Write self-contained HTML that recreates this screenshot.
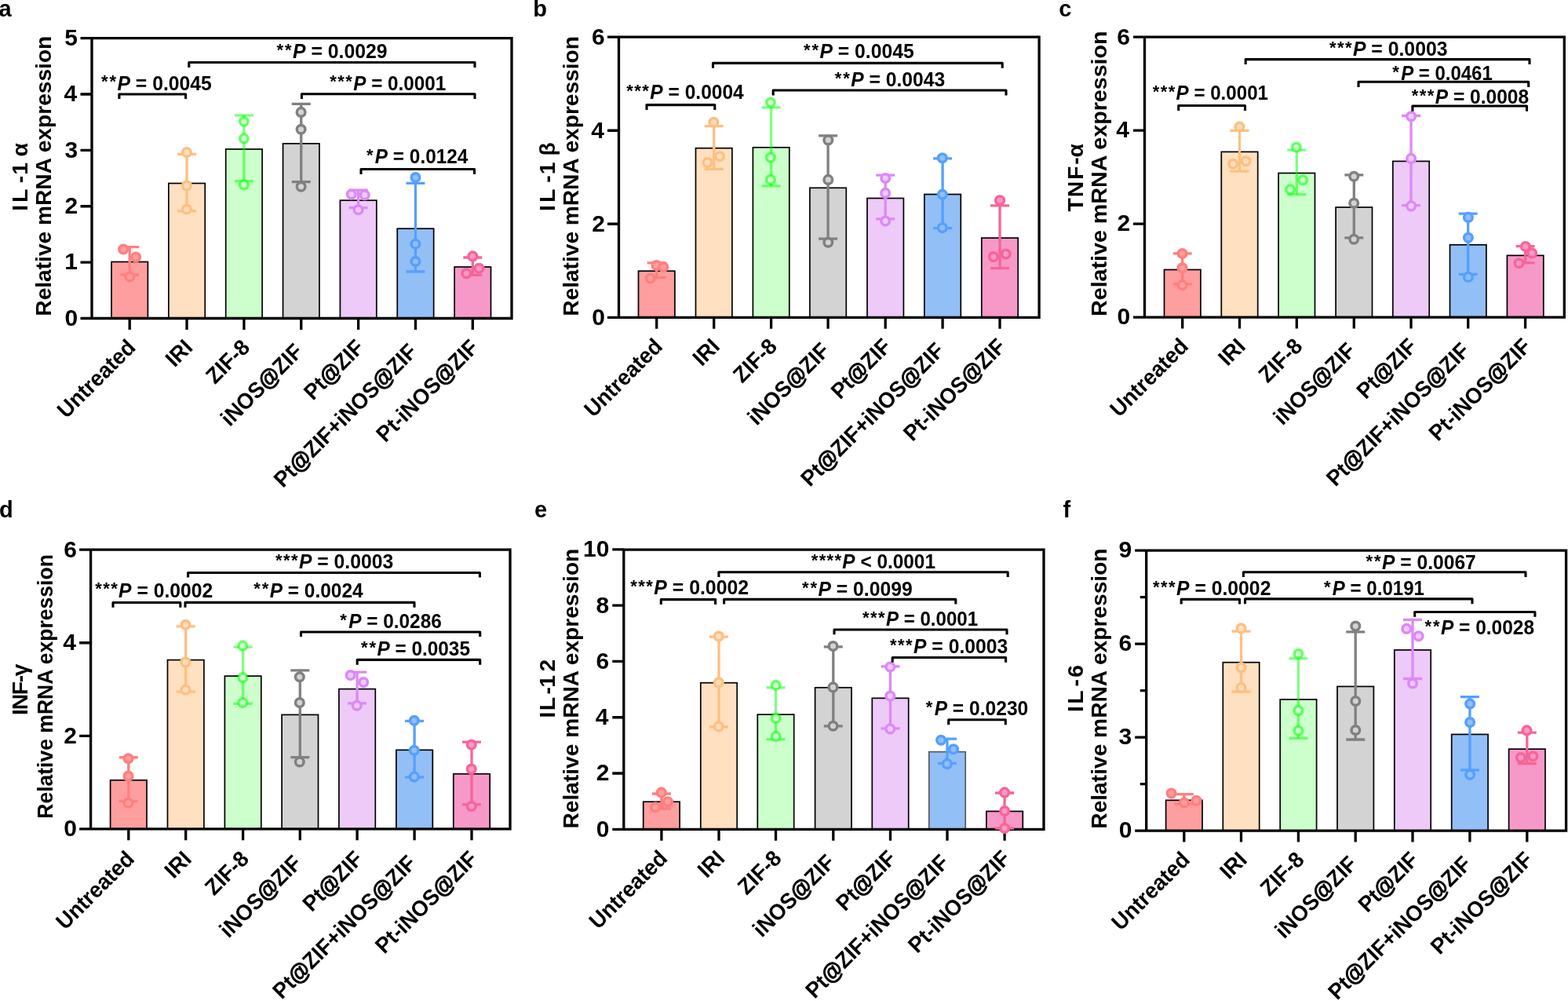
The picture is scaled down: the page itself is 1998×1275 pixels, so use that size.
<!DOCTYPE html>
<html><head><meta charset="utf-8"><title>mRNA expression bar charts</title><style>
html,body{margin:0;padding:0;background:#fff;}
svg{display:block;}
text{font-family:"Liberation Sans", Arial, Helvetica, sans-serif;font-weight:bold;fill:#000;}
</style></head><body>
<svg width="1998" height="1275" viewBox="0 0 1998 1275">
<rect width="1998" height="1275" fill="#fff"/>
<g id="p0"><rect x="142" y="333.5" width="46.4" height="72" fill="#FF9E9E" stroke="#000" stroke-width="1.7"/>
<rect x="214.85" y="233.5" width="46.4" height="172" fill="#FFE0C0" stroke="#000" stroke-width="1.7"/>
<rect x="287.7" y="190" width="46.4" height="215.5" fill="#CCFFCC" stroke="#000" stroke-width="1.7"/>
<rect x="360.55" y="182.9" width="46.4" height="222.6" fill="#D3D3D3" stroke="#000" stroke-width="1.7"/>
<rect x="433.4" y="255.2" width="46.4" height="150.3" fill="#EDCAF8" stroke="#000" stroke-width="1.7"/>
<rect x="506.25" y="291.2" width="46.4" height="114.3" fill="#93BFF7" stroke="#000" stroke-width="1.7"/>
<rect x="579.1" y="340" width="46.4" height="65.5" fill="#F799C8" stroke="#000" stroke-width="1.7"/>
<path d="M117 48.6H652V405.5H117ZM102.5 405.5H117M102.5 334.12H117M102.5 262.74H117M102.5 191.36H117M102.5 119.98H117M102.5 48.6H117M165.2 405.5V419.9M238.05 405.5V419.9M310.9 405.5V419.9M383.75 405.5V419.9M456.6 405.5V419.9M529.45 405.5V419.9M602.3 405.5V419.9" stroke="#000" stroke-width="3.3" fill="none" stroke-linejoin="miter"/>
<path d="M165.2 314.7V350M153.2 314.7H177.2M153.2 350H177.2" stroke="#FF7F7F" stroke-width="3.3" fill="none"/>
<circle cx="157.1" cy="317.5" r="5.3" fill="#FF9E9E" stroke="#FF7F7F" stroke-width="3.5"/>
<circle cx="173.1" cy="327.6" r="5.3" fill="#FF9E9E" stroke="#FF7F7F" stroke-width="3.5"/>
<circle cx="165.3" cy="352.4" r="5.3" fill="#FF9E9E" stroke="#FF7F7F" stroke-width="3.5"/>
<path d="M238.05 196.4V268.8M226.05 196.4H250.05M226.05 268.8H250.05" stroke="#FFBF80" stroke-width="3.3" fill="none"/>
<circle cx="237.9" cy="194" r="5.3" fill="#FFE0C0" stroke="#FFBF80" stroke-width="3.5"/>
<circle cx="237.9" cy="236.6" r="5.3" fill="#FFE0C0" stroke="#FFBF80" stroke-width="3.5"/>
<circle cx="237.9" cy="266.5" r="5.3" fill="#FFE0C0" stroke="#FFBF80" stroke-width="3.5"/>
<path d="M310.9 146.9V230.7" stroke="#00FF00" stroke-width="3.3" fill="none" stroke-opacity="0.5"/>
<path d="M298.9 146.9H322.9" stroke="#00FF00" stroke-width="3.3" fill="none" stroke-opacity="0.5"/>
<path d="M298.9 230.7H322.9" stroke="#00FF00" stroke-width="3.3" fill="none" stroke-opacity="0.5"/>
<circle cx="310.8" cy="154.7" r="5.3" fill="#CCFFCC"/>
<circle cx="310.8" cy="154.7" r="5.3" fill="none" stroke="#00FF00" stroke-width="3.5" stroke-opacity="0.55"/>
<circle cx="310.8" cy="176.4" r="5.3" fill="#CCFFCC"/>
<circle cx="310.8" cy="176.4" r="5.3" fill="none" stroke="#00FF00" stroke-width="3.5" stroke-opacity="0.55"/>
<circle cx="310.8" cy="235.4" r="5.3" fill="#CCFFCC"/>
<circle cx="310.8" cy="235.4" r="5.3" fill="none" stroke="#00FF00" stroke-width="3.5" stroke-opacity="0.55"/>
<path d="M383.75 132.4V231.6M371.75 132.4H395.75M371.75 231.6H395.75" stroke="#808080" stroke-width="3.3" fill="none"/>
<circle cx="383.6" cy="142.9" r="5.3" fill="#D3D3D3" stroke="#808080" stroke-width="3.5"/>
<circle cx="383.6" cy="164.8" r="5.3" fill="#D3D3D3" stroke="#808080" stroke-width="3.5"/>
<circle cx="383.6" cy="237.8" r="5.3" fill="#D3D3D3" stroke="#808080" stroke-width="3.5"/>
<path d="M456.6 242.2V264.6M444.6 242.2H468.6M444.6 264.6H468.6" stroke="#DD88F8" stroke-width="3.3" fill="none"/>
<circle cx="447.8" cy="247.6" r="5.3" fill="#EDCAF8" stroke="#DD88F8" stroke-width="3.5"/>
<circle cx="464.7" cy="248.4" r="5.3" fill="#EDCAF8" stroke="#DD88F8" stroke-width="3.5"/>
<circle cx="456.5" cy="267.2" r="5.3" fill="#EDCAF8" stroke="#DD88F8" stroke-width="3.5"/>
<path d="M529.45 233.4V346M517.45 233.4H541.45M517.45 346H541.45" stroke="#55A0FF" stroke-width="3.3" fill="none"/>
<circle cx="529.4" cy="226.1" r="5.3" fill="#93BFF7" stroke="#55A0FF" stroke-width="3.5"/>
<circle cx="529.4" cy="310.7" r="5.3" fill="#93BFF7" stroke="#55A0FF" stroke-width="3.5"/>
<circle cx="529.4" cy="333" r="5.3" fill="#93BFF7" stroke="#55A0FF" stroke-width="3.5"/>
<path d="M602.3 328V350.3M590.3 328H614.3M590.3 350.3H614.3" stroke="#F66598" stroke-width="3.3" fill="none"/>
<circle cx="602.3" cy="326.4" r="5.3" fill="#F799C8" stroke="#F66598" stroke-width="3.5"/>
<circle cx="610.5" cy="341.7" r="5.3" fill="#F799C8" stroke="#F66598" stroke-width="3.5"/>
<circle cx="594.3" cy="348.3" r="5.3" fill="#F799C8" stroke="#F66598" stroke-width="3.5"/>
<text x="99.23" y="414.82" text-anchor="end" font-size="30.0">0</text>
<text x="98.83" y="343.44" text-anchor="end" font-size="30.0">1</text>
<text x="99.2" y="272.06" text-anchor="end" font-size="30.0">2</text>
<text x="99.08" y="200.68" text-anchor="end" font-size="30.0">3</text>
<text x="98.16" y="129.3" text-anchor="end" font-size="30.0">4</text>
<text x="98.83" y="57.92" text-anchor="end" font-size="30.0">5</text>
<text transform="translate(174.2,444.2) rotate(-45)" text-anchor="end" font-size="28.3" textLength="126.96" lengthAdjust="spacingAndGlyphs">Untreated</text>
<text transform="translate(247.05,444.2) rotate(-45)" text-anchor="end" font-size="28.3" textLength="34.76" lengthAdjust="spacingAndGlyphs">IRI</text>
<text transform="translate(319.9,444.2) rotate(-45)" text-anchor="end" font-size="28.3" textLength="64.97" lengthAdjust="spacingAndGlyphs">ZIF-8</text>
<text transform="translate(387.4,449.55) rotate(-45)" text-anchor="end" font-size="28.3" textLength="133.81" lengthAdjust="spacingAndGlyphs">iNOS<tspan stroke="#000" stroke-width="0.9">@</tspan>ZIF</text>
<text transform="translate(465.6,444.2) rotate(-45)" text-anchor="end" font-size="28.3" textLength="94.51" lengthAdjust="spacingAndGlyphs">Pt<tspan stroke="#000" stroke-width="0.9">@</tspan>ZIF</text>
<text transform="translate(533.1,449.55) rotate(-45)" text-anchor="end" font-size="28.3" textLength="244.2" lengthAdjust="spacingAndGlyphs">Pt<tspan stroke="#000" stroke-width="0.9">@</tspan>ZIF+iNOS<tspan stroke="#000" stroke-width="0.9">@</tspan>ZIF</text>
<text transform="translate(611.3,444.2) rotate(-45)" text-anchor="end" font-size="28.3" textLength="170.07" lengthAdjust="spacingAndGlyphs">Pt-iNOS<tspan stroke="#000" stroke-width="0.9">@</tspan>ZIF</text>
<path d="M151.9 125.9V120H236.6V125.9" stroke="#000" stroke-width="3.1" fill="none" stroke-linejoin="round"/>
<path d="M240.8 85.9V79.5H605V85.9" stroke="#000" stroke-width="3.1" fill="none" stroke-linejoin="round"/>
<path d="M384.4 125.9V119.7H605V125.9" stroke="#000" stroke-width="3.1" fill="none" stroke-linejoin="round"/>
<path d="M460 222V215.5H604.5V222" stroke="#000" stroke-width="3.1" fill="none" stroke-linejoin="round"/>
<text x="129.04" y="111.4" font-size="22.0" textLength="19.06" lengthAdjust="spacing">**</text>
<text x="149.49" y="114.6" font-size="25.4" textLength="120.42" lengthAdjust="spacingAndGlyphs"><tspan font-style="italic">P</tspan> = 0.0045</text>
<text x="352.54" y="71.2" font-size="22.0" textLength="19.06" lengthAdjust="spacing">**</text>
<text x="372.99" y="74.4" font-size="25.4" textLength="120.55" lengthAdjust="spacingAndGlyphs"><tspan font-style="italic">P</tspan> = 0.0029</text>
<text x="420.34" y="111.4" font-size="22.0" textLength="28.59" lengthAdjust="spacing">***</text>
<text x="450.32" y="114.6" font-size="25.4" textLength="117.99" lengthAdjust="spacingAndGlyphs"><tspan font-style="italic">P</tspan> = 0.0001</text>
<text x="466.94" y="204.8" font-size="22.0" textLength="9.53" lengthAdjust="spacing">*</text>
<text x="477.86" y="208" font-size="25.4" textLength="118.48" lengthAdjust="spacingAndGlyphs"><tspan font-style="italic">P</tspan> = 0.0124</text>
<text transform="translate(64.9,0) rotate(-90)" x="-402.69" y="0" font-size="28.3" textLength="356.95" lengthAdjust="spacingAndGlyphs">Relative mRNA expression</text>
<text transform="translate(35.2,0) rotate(-90)" x="-268.83 -258.1 -233.35 -222.77 -207.03 -199.61" y="0" font-size="28.3">IL-1 α</text>
<text x="-1.5" y="20.6" font-size="29.0">a</text></g>
<g id="p1"><rect x="813.5" y="345.2" width="46.4" height="59.1" fill="#FF9E9E" stroke="#000" stroke-width="1.7"/>
<rect x="886.5" y="188.7" width="46.4" height="215.6" fill="#FFE0C0" stroke="#000" stroke-width="1.7"/>
<rect x="959.4" y="187.8" width="46.4" height="216.5" fill="#CCFFCC" stroke="#000" stroke-width="1.7"/>
<rect x="1031.9" y="239.3" width="46.4" height="165" fill="#D3D3D3" stroke="#000" stroke-width="1.7"/>
<rect x="1105" y="252.5" width="46.4" height="151.8" fill="#EDCAF8" stroke="#000" stroke-width="1.7"/>
<rect x="1177.9" y="247.5" width="46.4" height="156.8" fill="#93BFF7" stroke="#000" stroke-width="1.7"/>
<rect x="1250.8" y="303.1" width="46.4" height="101.2" fill="#F799C8" stroke="#000" stroke-width="1.7"/>
<path d="M788.5 47.2H1324.1V404.3H788.5ZM774 404.3H788.5M774 285.27H788.5M774 166.23H788.5M774 47.2H788.5M836.7 404.3V418.7M909.7 404.3V418.7M982.6 404.3V418.7M1055.1 404.3V418.7M1128.2 404.3V418.7M1201.1 404.3V418.7M1274 404.3V418.7" stroke="#000" stroke-width="3.3" fill="none" stroke-linejoin="miter"/>
<path d="M836.7 334.8V353.4M824.7 334.8H848.7M824.7 353.4H848.7" stroke="#FF7F7F" stroke-width="3.3" fill="none"/>
<circle cx="836.5" cy="338.1" r="5.3" fill="#FF9E9E" stroke="#FF7F7F" stroke-width="3.5"/>
<circle cx="845.2" cy="340" r="5.3" fill="#FF9E9E" stroke="#FF7F7F" stroke-width="3.5"/>
<circle cx="828.7" cy="354.6" r="5.3" fill="#FF9E9E" stroke="#FF7F7F" stroke-width="3.5"/>
<path d="M909.7 160.7V215.3M897.7 160.7H921.7M897.7 215.3H921.7" stroke="#FFBF80" stroke-width="3.3" fill="none"/>
<circle cx="909.4" cy="155.8" r="5.3" fill="#FFE0C0" stroke="#FFBF80" stroke-width="3.5"/>
<circle cx="917" cy="199.3" r="5.3" fill="#FFE0C0" stroke="#FFBF80" stroke-width="3.5"/>
<circle cx="901.6" cy="207.1" r="5.3" fill="#FFE0C0" stroke="#FFBF80" stroke-width="3.5"/>
<path d="M982.6 136.9V236.9" stroke="#00FF00" stroke-width="3.3" fill="none" stroke-opacity="0.5"/>
<path d="M970.6 136.9H994.6" stroke="#00FF00" stroke-width="3.3" fill="none" stroke-opacity="0.5"/>
<path d="M970.6 236.9H994.6" stroke="#00FF00" stroke-width="3.3" fill="none" stroke-opacity="0.5"/>
<circle cx="981.9" cy="130.6" r="5.3" fill="#CCFFCC"/>
<circle cx="981.9" cy="130.6" r="5.3" fill="none" stroke="#00FF00" stroke-width="3.5" stroke-opacity="0.55"/>
<circle cx="981.9" cy="200.5" r="5.3" fill="#CCFFCC"/>
<circle cx="981.9" cy="200.5" r="5.3" fill="none" stroke="#00FF00" stroke-width="3.5" stroke-opacity="0.55"/>
<circle cx="981.9" cy="228.9" r="5.3" fill="#CCFFCC"/>
<circle cx="981.9" cy="228.9" r="5.3" fill="none" stroke="#00FF00" stroke-width="3.5" stroke-opacity="0.55"/>
<path d="M1055.1 172.9V304.2M1043.1 172.9H1067.1M1043.1 304.2H1067.1" stroke="#808080" stroke-width="3.3" fill="none"/>
<circle cx="1055.3" cy="178.4" r="5.3" fill="#D3D3D3" stroke="#808080" stroke-width="3.5"/>
<circle cx="1055.3" cy="228.9" r="5.3" fill="#D3D3D3" stroke="#808080" stroke-width="3.5"/>
<circle cx="1055.3" cy="308.7" r="5.3" fill="#D3D3D3" stroke="#808080" stroke-width="3.5"/>
<path d="M1128.2 223.1V278.8M1116.2 223.1H1140.2M1116.2 278.8H1140.2" stroke="#DD88F8" stroke-width="3.3" fill="none"/>
<circle cx="1128.2" cy="227.1" r="5.3" fill="#EDCAF8" stroke="#DD88F8" stroke-width="3.5"/>
<circle cx="1128.2" cy="245.9" r="5.3" fill="#EDCAF8" stroke="#DD88F8" stroke-width="3.5"/>
<circle cx="1128.2" cy="281.6" r="5.3" fill="#EDCAF8" stroke="#DD88F8" stroke-width="3.5"/>
<path d="M1201.1 201.9V290.6M1189.1 201.9H1213.1M1189.1 290.6H1213.1" stroke="#55A0FF" stroke-width="3.3" fill="none"/>
<circle cx="1200.8" cy="201.2" r="5.3" fill="#93BFF7" stroke="#55A0FF" stroke-width="3.5"/>
<circle cx="1200.8" cy="247.8" r="5.3" fill="#93BFF7" stroke="#55A0FF" stroke-width="3.5"/>
<circle cx="1200.8" cy="290.1" r="5.3" fill="#93BFF7" stroke="#55A0FF" stroke-width="3.5"/>
<path d="M1274 261.9V341.6M1262 261.9H1286M1262 341.6H1286" stroke="#F66598" stroke-width="3.3" fill="none"/>
<circle cx="1274" cy="255.3" r="5.3" fill="#F799C8" stroke="#F66598" stroke-width="3.5"/>
<circle cx="1265.8" cy="327.1" r="5.3" fill="#F799C8" stroke="#F66598" stroke-width="3.5"/>
<circle cx="1281.8" cy="323.5" r="5.3" fill="#F799C8" stroke="#F66598" stroke-width="3.5"/>
<text x="770.93" y="413.62" text-anchor="end" font-size="30.0">0</text>
<text x="770.9" y="294.59" text-anchor="end" font-size="30.0">2</text>
<text x="769.86" y="175.55" text-anchor="end" font-size="30.0">4</text>
<text x="770.78" y="56.52" text-anchor="end" font-size="30.0">6</text>
<text transform="translate(845.7,443) rotate(-45)" text-anchor="end" font-size="28.3" textLength="126.96" lengthAdjust="spacingAndGlyphs">Untreated</text>
<text transform="translate(918.7,443) rotate(-45)" text-anchor="end" font-size="28.3" textLength="34.76" lengthAdjust="spacingAndGlyphs">IRI</text>
<text transform="translate(991.6,443) rotate(-45)" text-anchor="end" font-size="28.3" textLength="64.97" lengthAdjust="spacingAndGlyphs">ZIF-8</text>
<text transform="translate(1058.75,448.35) rotate(-45)" text-anchor="end" font-size="28.3" textLength="133.81" lengthAdjust="spacingAndGlyphs">iNOS<tspan stroke="#000" stroke-width="0.9">@</tspan>ZIF</text>
<text transform="translate(1137.2,443) rotate(-45)" text-anchor="end" font-size="28.3" textLength="94.51" lengthAdjust="spacingAndGlyphs">Pt<tspan stroke="#000" stroke-width="0.9">@</tspan>ZIF</text>
<text transform="translate(1204.75,448.35) rotate(-45)" text-anchor="end" font-size="28.3" textLength="244.2" lengthAdjust="spacingAndGlyphs">Pt<tspan stroke="#000" stroke-width="0.9">@</tspan>ZIF+iNOS<tspan stroke="#000" stroke-width="0.9">@</tspan>ZIF</text>
<text transform="translate(1283,443) rotate(-45)" text-anchor="end" font-size="28.3" textLength="170.07" lengthAdjust="spacingAndGlyphs">Pt-iNOS<tspan stroke="#000" stroke-width="0.9">@</tspan>ZIF</text>
<path d="M824 139.9V133.6H910.8V139.9" stroke="#000" stroke-width="3.1" fill="none" stroke-linejoin="round"/>
<path d="M908.5 86.8V80.4H1277.2V86.8" stroke="#000" stroke-width="3.1" fill="none" stroke-linejoin="round"/>
<path d="M985.2 121.4V115H1282V121.4" stroke="#000" stroke-width="3.1" fill="none" stroke-linejoin="round"/>
<text x="798.34" y="123.1" font-size="22.0" textLength="28.59" lengthAdjust="spacing">***</text>
<text x="828.32" y="126.3" font-size="25.4" textLength="119.42" lengthAdjust="spacingAndGlyphs"><tspan font-style="italic">P</tspan> = 0.0004</text>
<text x="1023.94" y="71.2" font-size="22.0" textLength="19.06" lengthAdjust="spacing">**</text>
<text x="1044.39" y="74.4" font-size="25.4" textLength="120.32" lengthAdjust="spacingAndGlyphs"><tspan font-style="italic">P</tspan> = 0.0045</text>
<text x="1063.74" y="106.5" font-size="22.0" textLength="19.06" lengthAdjust="spacing">**</text>
<text x="1084.19" y="109.7" font-size="25.4" textLength="120.03" lengthAdjust="spacingAndGlyphs"><tspan font-style="italic">P</tspan> = 0.0043</text>
<text transform="translate(736.9,0) rotate(-90)" x="-402.79" y="0" font-size="28.3" textLength="356.65" lengthAdjust="spacingAndGlyphs">Relative mRNA expression</text>
<text transform="translate(706.7,0) rotate(-90)" x="-268.88 -257.9 -232.75 -222.37 -206.63 -198.59" y="0" font-size="28.3">IL-1 β</text>
<text x="679.2" y="20.7" font-size="29.0">b</text></g>
<g id="p2"><rect x="1483.5" y="343.5" width="46.4" height="60.6" fill="#FF9E9E" stroke="#000" stroke-width="1.7"/>
<rect x="1556.3" y="193.4" width="46.4" height="210.7" fill="#FFE0C0" stroke="#000" stroke-width="1.7"/>
<rect x="1629.1" y="220.5" width="46.4" height="183.6" fill="#CCFFCC" stroke="#000" stroke-width="1.7"/>
<rect x="1702.1" y="264" width="46.4" height="140.1" fill="#D3D3D3" stroke="#000" stroke-width="1.7"/>
<rect x="1774.8" y="205.4" width="46.4" height="198.7" fill="#EDCAF8" stroke="#000" stroke-width="1.7"/>
<rect x="1847.5" y="311.8" width="46.4" height="92.3" fill="#93BFF7" stroke="#000" stroke-width="1.7"/>
<rect x="1920.4" y="325.4" width="46.4" height="78.7" fill="#F799C8" stroke="#000" stroke-width="1.7"/>
<path d="M1458.5 47.2H1993.3V404.1H1458.5ZM1444 404.1H1458.5M1444 285.13H1458.5M1444 166.17H1458.5M1444 47.2H1458.5M1506.7 404.1V418.5M1579.5 404.1V418.5M1652.3 404.1V418.5M1725.3 404.1V418.5M1798 404.1V418.5M1870.7 404.1V418.5M1943.6 404.1V418.5" stroke="#000" stroke-width="3.3" fill="none" stroke-linejoin="miter"/>
<path d="M1506.7 322.8V361.9M1494.7 322.8H1518.7M1494.7 361.9H1518.7" stroke="#FF7F7F" stroke-width="3.3" fill="none"/>
<circle cx="1506.5" cy="323.1" r="5.3" fill="#FF9E9E" stroke="#FF7F7F" stroke-width="3.5"/>
<circle cx="1506.5" cy="341.2" r="5.3" fill="#FF9E9E" stroke="#FF7F7F" stroke-width="3.5"/>
<circle cx="1506.5" cy="363.1" r="5.3" fill="#FF9E9E" stroke="#FF7F7F" stroke-width="3.5"/>
<path d="M1579.5 166.4V218.1M1567.5 166.4H1591.5M1567.5 218.1H1591.5" stroke="#FFBF80" stroke-width="3.3" fill="none"/>
<circle cx="1579.4" cy="161.6" r="5.3" fill="#FFE0C0" stroke="#FFBF80" stroke-width="3.5"/>
<circle cx="1571.2" cy="208.7" r="5.3" fill="#FFE0C0" stroke="#FFBF80" stroke-width="3.5"/>
<circle cx="1587.6" cy="205.2" r="5.3" fill="#FFE0C0" stroke="#FFBF80" stroke-width="3.5"/>
<path d="M1652.3 191.1V247.8" stroke="#00FF00" stroke-width="3.3" fill="none" stroke-opacity="0.5"/>
<path d="M1640.3 191.1H1664.3" stroke="#00FF00" stroke-width="3.3" fill="none" stroke-opacity="0.5"/>
<path d="M1640.3 247.8H1664.3" stroke="#00FF00" stroke-width="3.3" fill="none" stroke-opacity="0.5"/>
<circle cx="1651.9" cy="187.5" r="5.3" fill="#CCFFCC"/>
<circle cx="1651.9" cy="187.5" r="5.3" fill="none" stroke="#00FF00" stroke-width="3.5" stroke-opacity="0.55"/>
<circle cx="1660.1" cy="229.4" r="5.3" fill="#CCFFCC"/>
<circle cx="1660.1" cy="229.4" r="5.3" fill="none" stroke="#00FF00" stroke-width="3.5" stroke-opacity="0.55"/>
<circle cx="1644.1" cy="241.2" r="5.3" fill="#CCFFCC"/>
<circle cx="1644.1" cy="241.2" r="5.3" fill="none" stroke="#00FF00" stroke-width="3.5" stroke-opacity="0.55"/>
<path d="M1725.3 222.8V302.8M1713.3 222.8H1737.3M1713.3 302.8H1737.3" stroke="#808080" stroke-width="3.3" fill="none"/>
<circle cx="1725.2" cy="224.7" r="5.3" fill="#D3D3D3" stroke="#808080" stroke-width="3.5"/>
<circle cx="1725.2" cy="258.8" r="5.3" fill="#D3D3D3" stroke="#808080" stroke-width="3.5"/>
<circle cx="1725.2" cy="304.7" r="5.3" fill="#D3D3D3" stroke="#808080" stroke-width="3.5"/>
<path d="M1798 147.5V261.6M1786 147.5H1810M1786 261.6H1810" stroke="#DD88F8" stroke-width="3.3" fill="none"/>
<circle cx="1798.1" cy="148.2" r="5.3" fill="#EDCAF8" stroke="#DD88F8" stroke-width="3.5"/>
<circle cx="1798.1" cy="201.9" r="5.3" fill="#EDCAF8" stroke="#DD88F8" stroke-width="3.5"/>
<circle cx="1798.1" cy="262.4" r="5.3" fill="#EDCAF8" stroke="#DD88F8" stroke-width="3.5"/>
<path d="M1870.7 272.2V349.4M1858.7 272.2H1882.7M1858.7 349.4H1882.7" stroke="#55A0FF" stroke-width="3.3" fill="none"/>
<circle cx="1870.9" cy="276.9" r="5.3" fill="#93BFF7" stroke="#55A0FF" stroke-width="3.5"/>
<circle cx="1870.9" cy="302.8" r="5.3" fill="#93BFF7" stroke="#55A0FF" stroke-width="3.5"/>
<circle cx="1870.9" cy="352.9" r="5.3" fill="#93BFF7" stroke="#55A0FF" stroke-width="3.5"/>
<path d="M1943.6 313.6V334.8M1931.6 313.6H1955.6M1931.6 334.8H1955.6" stroke="#F66598" stroke-width="3.3" fill="none"/>
<circle cx="1943.9" cy="314.1" r="5.3" fill="#F799C8" stroke="#F66598" stroke-width="3.5"/>
<circle cx="1952.1" cy="322.4" r="5.3" fill="#F799C8" stroke="#F66598" stroke-width="3.5"/>
<circle cx="1935.6" cy="335.3" r="5.3" fill="#F799C8" stroke="#F66598" stroke-width="3.5"/>
<text x="1440.13" y="413.42" text-anchor="end" font-size="30.0">0</text>
<text x="1440.1" y="294.45" text-anchor="end" font-size="30.0">2</text>
<text x="1439.06" y="175.49" text-anchor="end" font-size="30.0">4</text>
<text x="1439.98" y="56.52" text-anchor="end" font-size="30.0">6</text>
<text transform="translate(1515.7,442.8) rotate(-45)" text-anchor="end" font-size="28.3" textLength="126.96" lengthAdjust="spacingAndGlyphs">Untreated</text>
<text transform="translate(1588.5,442.8) rotate(-45)" text-anchor="end" font-size="28.3" textLength="34.76" lengthAdjust="spacingAndGlyphs">IRI</text>
<text transform="translate(1661.3,442.8) rotate(-45)" text-anchor="end" font-size="28.3" textLength="64.97" lengthAdjust="spacingAndGlyphs">ZIF-8</text>
<text transform="translate(1728.95,448.15) rotate(-45)" text-anchor="end" font-size="28.3" textLength="133.81" lengthAdjust="spacingAndGlyphs">iNOS<tspan stroke="#000" stroke-width="0.9">@</tspan>ZIF</text>
<text transform="translate(1807,442.8) rotate(-45)" text-anchor="end" font-size="28.3" textLength="94.51" lengthAdjust="spacingAndGlyphs">Pt<tspan stroke="#000" stroke-width="0.9">@</tspan>ZIF</text>
<text transform="translate(1874.35,448.15) rotate(-45)" text-anchor="end" font-size="28.3" textLength="244.2" lengthAdjust="spacingAndGlyphs">Pt<tspan stroke="#000" stroke-width="0.9">@</tspan>ZIF+iNOS<tspan stroke="#000" stroke-width="0.9">@</tspan>ZIF</text>
<text transform="translate(1952.6,442.8) rotate(-45)" text-anchor="end" font-size="28.3" textLength="170.07" lengthAdjust="spacingAndGlyphs">Pt-iNOS<tspan stroke="#000" stroke-width="0.9">@</tspan>ZIF</text>
<path d="M1501.7 141V134.5H1586.5V141" stroke="#000" stroke-width="3.1" fill="none" stroke-linejoin="round"/>
<path d="M1587.2 82.1V75.6H1949V82.1" stroke="#000" stroke-width="3.1" fill="none" stroke-linejoin="round"/>
<path d="M1731 110.9V104.3H1947.7V110.9" stroke="#000" stroke-width="3.1" fill="none" stroke-linejoin="round"/>
<path d="M1799.9 141.7V135H1945.5V141.7" stroke="#000" stroke-width="3.1" fill="none" stroke-linejoin="round"/>
<text x="1468.64" y="124.2" font-size="22.0" textLength="28.59" lengthAdjust="spacing">***</text>
<text x="1498.62" y="127.4" font-size="25.4" textLength="117.39" lengthAdjust="spacingAndGlyphs"><tspan font-style="italic">P</tspan> = 0.0001</text>
<text x="1693.94" y="67.7" font-size="22.0" textLength="28.59" lengthAdjust="spacing">***</text>
<text x="1723.92" y="70.9" font-size="25.4" textLength="120.6" lengthAdjust="spacingAndGlyphs"><tspan font-style="italic">P</tspan> = 0.0003</text>
<text x="1774.24" y="98.6" font-size="22.0" textLength="9.53" lengthAdjust="spacing">*</text>
<text x="1785.16" y="101.8" font-size="25.4" textLength="116.65" lengthAdjust="spacingAndGlyphs"><tspan font-style="italic">P</tspan> = 0.0461</text>
<text x="1798.74" y="128.7" font-size="22.0" textLength="28.59" lengthAdjust="spacing">***</text>
<text x="1828.72" y="131.9" font-size="25.4" textLength="119.36" lengthAdjust="spacingAndGlyphs"><tspan font-style="italic">P</tspan> = 0.0008</text>
<text transform="translate(1410,0) rotate(-90)" x="-402.99" y="0" font-size="28.3" textLength="363.55" lengthAdjust="spacingAndGlyphs">Relative mRNA expression</text>
<text transform="translate(1379.9,0) rotate(-90)" x="-269.45 -251.26 -228.97 -209.75 -200.41" y="0" font-size="28.3">TNF-α</text>
<text x="1349.2" y="20.6" font-size="29.0">c</text></g>
<g id="p3"><rect x="140.6" y="993.7" width="46.4" height="62.2" fill="#FF9E9E" stroke="#000" stroke-width="1.7"/>
<rect x="213.5" y="840.6" width="46.4" height="215.3" fill="#FFE0C0" stroke="#000" stroke-width="1.7"/>
<rect x="286.4" y="861.1" width="46.4" height="194.8" fill="#CCFFCC" stroke="#000" stroke-width="1.7"/>
<rect x="359.1" y="910.4" width="46.4" height="145.5" fill="#D3D3D3" stroke="#000" stroke-width="1.7"/>
<rect x="431.9" y="877.6" width="46.4" height="178.3" fill="#EDCAF8" stroke="#000" stroke-width="1.7"/>
<rect x="504.9" y="955.3" width="46.4" height="100.6" fill="#93BFF7" stroke="#000" stroke-width="1.7"/>
<rect x="577.8" y="985.7" width="46.4" height="70.2" fill="#F799C8" stroke="#000" stroke-width="1.7"/>
<path d="M115.6 700.2H650V1055.9H115.6ZM101.1 1055.9H115.6M101.1 937.33H115.6M101.1 818.77H115.6M101.1 700.2H115.6M163.8 1055.9V1070.3M236.7 1055.9V1070.3M309.6 1055.9V1070.3M382.3 1055.9V1070.3M455.1 1055.9V1070.3M528.1 1055.9V1070.3M601 1055.9V1070.3" stroke="#000" stroke-width="3.3" fill="none" stroke-linejoin="miter"/>
<path d="M163.8 964.6V1020.5M151.8 964.6H175.8M151.8 1020.5H175.8" stroke="#FF7F7F" stroke-width="3.3" fill="none"/>
<circle cx="163.5" cy="966.3" r="5.3" fill="#FF9E9E" stroke="#FF7F7F" stroke-width="3.5"/>
<circle cx="163.5" cy="988.6" r="5.3" fill="#FF9E9E" stroke="#FF7F7F" stroke-width="3.5"/>
<circle cx="163.5" cy="1022.7" r="5.3" fill="#FF9E9E" stroke="#FF7F7F" stroke-width="3.5"/>
<path d="M236.7 797.9V881.2M224.7 797.9H248.7M224.7 881.2H248.7" stroke="#FFBF80" stroke-width="3.3" fill="none"/>
<circle cx="236.4" cy="795.7" r="5.3" fill="#FFE0C0" stroke="#FFBF80" stroke-width="3.5"/>
<circle cx="236.4" cy="843.6" r="5.3" fill="#FFE0C0" stroke="#FFBF80" stroke-width="3.5"/>
<circle cx="236.4" cy="878.8" r="5.3" fill="#FFE0C0" stroke="#FFBF80" stroke-width="3.5"/>
<path d="M309.6 824.1V896.3" stroke="#00FF00" stroke-width="3.3" fill="none" stroke-opacity="0.5"/>
<path d="M297.6 824.1H321.6" stroke="#00FF00" stroke-width="3.3" fill="none" stroke-opacity="0.5"/>
<path d="M297.6 896.3H321.6" stroke="#00FF00" stroke-width="3.3" fill="none" stroke-opacity="0.5"/>
<circle cx="309.3" cy="822.4" r="5.3" fill="#CCFFCC"/>
<circle cx="309.3" cy="822.4" r="5.3" fill="none" stroke="#00FF00" stroke-width="3.5" stroke-opacity="0.55"/>
<circle cx="309.3" cy="863" r="5.3" fill="#CCFFCC"/>
<circle cx="309.3" cy="863" r="5.3" fill="none" stroke="#00FF00" stroke-width="3.5" stroke-opacity="0.55"/>
<circle cx="309.3" cy="895.1" r="5.3" fill="#CCFFCC"/>
<circle cx="309.3" cy="895.1" r="5.3" fill="none" stroke="#00FF00" stroke-width="3.5" stroke-opacity="0.55"/>
<path d="M382.3 853.8V964.6M370.3 853.8H394.3M370.3 964.6H394.3" stroke="#808080" stroke-width="3.3" fill="none"/>
<circle cx="381.8" cy="862.3" r="5.3" fill="#D3D3D3" stroke="#808080" stroke-width="3.5"/>
<circle cx="381.8" cy="895.1" r="5.3" fill="#D3D3D3" stroke="#808080" stroke-width="3.5"/>
<circle cx="381.8" cy="970.4" r="5.3" fill="#D3D3D3" stroke="#808080" stroke-width="3.5"/>
<path d="M455.1 856.2V895.8M443.1 856.2H467.1M443.1 895.8H467.1" stroke="#DD88F8" stroke-width="3.3" fill="none"/>
<circle cx="446.6" cy="860.1" r="5.3" fill="#EDCAF8" stroke="#DD88F8" stroke-width="3.5"/>
<circle cx="463.2" cy="869.1" r="5.3" fill="#EDCAF8" stroke="#DD88F8" stroke-width="3.5"/>
<circle cx="454.7" cy="898.7" r="5.3" fill="#EDCAF8" stroke="#DD88F8" stroke-width="3.5"/>
<path d="M528.1 918.4V989.9M516.1 918.4H540.1M516.1 989.9H540.1" stroke="#55A0FF" stroke-width="3.3" fill="none"/>
<circle cx="527.8" cy="917.7" r="5.3" fill="#93BFF7" stroke="#55A0FF" stroke-width="3.5"/>
<circle cx="527.8" cy="955.8" r="5.3" fill="#93BFF7" stroke="#55A0FF" stroke-width="3.5"/>
<circle cx="527.8" cy="989.4" r="5.3" fill="#93BFF7" stroke="#55A0FF" stroke-width="3.5"/>
<path d="M601 945.1V1024.6M589 945.1H613M589 1024.6H613" stroke="#F66598" stroke-width="3.3" fill="none"/>
<circle cx="600.7" cy="948.5" r="5.3" fill="#F799C8" stroke="#F66598" stroke-width="3.5"/>
<circle cx="600.7" cy="979.6" r="5.3" fill="#F799C8" stroke="#F66598" stroke-width="3.5"/>
<circle cx="600.7" cy="1027" r="5.3" fill="#F799C8" stroke="#F66598" stroke-width="3.5"/>
<text x="98.03" y="1065.22" text-anchor="end" font-size="30.0">0</text>
<text x="98" y="946.65" text-anchor="end" font-size="30.0">2</text>
<text x="96.96" y="828.09" text-anchor="end" font-size="30.0">4</text>
<text x="97.88" y="709.52" text-anchor="end" font-size="30.0">6</text>
<text transform="translate(172.8,1095.8) rotate(-45)" text-anchor="end" font-size="28.3" textLength="126.96" lengthAdjust="spacingAndGlyphs">Untreated</text>
<text transform="translate(245.7,1095.8) rotate(-45)" text-anchor="end" font-size="28.3" textLength="34.76" lengthAdjust="spacingAndGlyphs">IRI</text>
<text transform="translate(318.6,1095.8) rotate(-45)" text-anchor="end" font-size="28.3" textLength="64.97" lengthAdjust="spacingAndGlyphs">ZIF-8</text>
<text transform="translate(385.95,1101.15) rotate(-45)" text-anchor="end" font-size="28.3" textLength="133.81" lengthAdjust="spacingAndGlyphs">iNOS<tspan stroke="#000" stroke-width="0.9">@</tspan>ZIF</text>
<text transform="translate(464.1,1095.8) rotate(-45)" text-anchor="end" font-size="28.3" textLength="94.51" lengthAdjust="spacingAndGlyphs">Pt<tspan stroke="#000" stroke-width="0.9">@</tspan>ZIF</text>
<text transform="translate(531.75,1101.15) rotate(-45)" text-anchor="end" font-size="28.3" textLength="244.2" lengthAdjust="spacingAndGlyphs">Pt<tspan stroke="#000" stroke-width="0.9">@</tspan>ZIF+iNOS<tspan stroke="#000" stroke-width="0.9">@</tspan>ZIF</text>
<text transform="translate(610,1095.8) rotate(-45)" text-anchor="end" font-size="28.3" textLength="170.07" lengthAdjust="spacingAndGlyphs">Pt-iNOS<tspan stroke="#000" stroke-width="0.9">@</tspan>ZIF</text>
<path d="M144 773.8V767.5H229.8V773.8" stroke="#000" stroke-width="3.1" fill="none" stroke-linejoin="round"/>
<path d="M236 773.8V767.4H528V773.8" stroke="#000" stroke-width="3.1" fill="none" stroke-linejoin="round"/>
<path d="M239.6 735.6V729.5H611.4V735.6" stroke="#000" stroke-width="3.1" fill="none" stroke-linejoin="round"/>
<path d="M383.5 811V805H611.7V811" stroke="#000" stroke-width="3.1" fill="none" stroke-linejoin="round"/>
<path d="M455.2 846.7V840.4H611.7V846.7" stroke="#000" stroke-width="3.1" fill="none" stroke-linejoin="round"/>
<text x="121.14" y="757.4" font-size="22.0" textLength="28.59" lengthAdjust="spacing">***</text>
<text x="151.12" y="760.6" font-size="25.4" textLength="120.1" lengthAdjust="spacingAndGlyphs"><tspan font-style="italic">P</tspan> = 0.0002</text>
<text x="323.24" y="757.4" font-size="22.0" textLength="19.06" lengthAdjust="spacing">**</text>
<text x="343.69" y="760.6" font-size="25.4" textLength="118.95" lengthAdjust="spacingAndGlyphs"><tspan font-style="italic">P</tspan> = 0.0024</text>
<text x="350.94" y="720.8" font-size="22.0" textLength="28.59" lengthAdjust="spacing">***</text>
<text x="380.92" y="724" font-size="25.4" textLength="120.3" lengthAdjust="spacingAndGlyphs"><tspan font-style="italic">P</tspan> = 0.0003</text>
<text x="433.24" y="797.1" font-size="22.0" textLength="9.53" lengthAdjust="spacing">*</text>
<text x="444.16" y="800.3" font-size="25.4" textLength="118.66" lengthAdjust="spacingAndGlyphs"><tspan font-style="italic">P</tspan> = 0.0286</text>
<text x="459.94" y="831.9" font-size="22.0" textLength="19.06" lengthAdjust="spacing">**</text>
<text x="480.39" y="835.1" font-size="25.4" textLength="118.62" lengthAdjust="spacingAndGlyphs"><tspan font-style="italic">P</tspan> = 0.0035</text>
<text transform="translate(67.3,0) rotate(-90)" x="-1042.79" y="0" font-size="28.3" textLength="336.65" lengthAdjust="spacingAndGlyphs">Relative mRNA expression</text>
<text transform="translate(34.9,0) rotate(-90)" x="-910.98 -904.16 -885.32 -869.2 -861.32" y="0" font-size="28.3">INF-γ</text>
<text x="-1" y="658.5" font-size="29.0">d</text></g>
<g id="p4"><rect x="819.7" y="1021.2" width="46.4" height="35.1" fill="#FF9E9E" stroke="#000" stroke-width="1.7"/>
<rect x="892.8" y="869.7" width="46.4" height="186.6" fill="#FFE0C0" stroke="#000" stroke-width="1.7"/>
<rect x="965.3" y="910.1" width="46.4" height="146.2" fill="#CCFFCC" stroke="#000" stroke-width="1.7"/>
<rect x="1038.6" y="875.8" width="46.4" height="180.5" fill="#D3D3D3" stroke="#000" stroke-width="1.7"/>
<rect x="1111.3" y="889.3" width="46.4" height="167" fill="#EDCAF8" stroke="#000" stroke-width="1.7"/>
<rect x="1183.8" y="957.6" width="46.4" height="98.7" fill="#93BFF7" stroke="#5a5a5a" stroke-width="1.7"/>
<rect x="1256.9" y="1033.4" width="46.4" height="22.9" fill="#F799C8" stroke="#000" stroke-width="1.7"/>
<path d="M794.8 700.1H1330V1056.3H794.8ZM780.3 1056.3H794.8M780.3 985.02H794.8M780.3 913.74H794.8M780.3 842.46H794.8M780.3 771.18H794.8M780.3 699.9H794.8M842.9 1056.3V1070.7M916 1056.3V1070.7M988.5 1056.3V1070.7M1061.8 1056.3V1070.7M1134.5 1056.3V1070.7M1207 1056.3V1070.7M1280.1 1056.3V1070.7" stroke="#000" stroke-width="3.3" fill="none" stroke-linejoin="miter"/>
<path d="M842.9 1011V1030M830.9 1011H854.9M830.9 1030H854.9" stroke="#FF7F7F" stroke-width="3.3" fill="none"/>
<circle cx="842.8" cy="1009.4" r="5.3" fill="#FF9E9E" stroke="#FF7F7F" stroke-width="3.5"/>
<circle cx="851" cy="1021.2" r="5.3" fill="#FF9E9E" stroke="#FF7F7F" stroke-width="3.5"/>
<circle cx="835.1" cy="1028.3" r="5.3" fill="#FF9E9E" stroke="#FF7F7F" stroke-width="3.5"/>
<path d="M916 811.2V925.8M904 811.2H928M904 925.8H928" stroke="#FFBF80" stroke-width="3.3" fill="none"/>
<circle cx="915.8" cy="810.6" r="5.3" fill="#FFE0C0" stroke="#FFBF80" stroke-width="3.5"/>
<circle cx="915.8" cy="869.3" r="5.3" fill="#FFE0C0" stroke="#FFBF80" stroke-width="3.5"/>
<circle cx="915.8" cy="925.4" r="5.3" fill="#FFE0C0" stroke="#FFBF80" stroke-width="3.5"/>
<path d="M988.5 875.8V941.7" stroke="#00FF00" stroke-width="3.3" fill="none" stroke-opacity="0.5"/>
<path d="M976.5 875.8H1000.5" stroke="#00FF00" stroke-width="3.3" fill="none" stroke-opacity="0.5"/>
<path d="M976.5 941.7H1000.5" stroke="#00FF00" stroke-width="3.3" fill="none" stroke-opacity="0.5"/>
<circle cx="988.6" cy="872.8" r="5.3" fill="#CCFFCC"/>
<circle cx="988.6" cy="872.8" r="5.3" fill="none" stroke="#00FF00" stroke-width="3.5" stroke-opacity="0.55"/>
<circle cx="988.6" cy="914.8" r="5.3" fill="#CCFFCC"/>
<circle cx="988.6" cy="914.8" r="5.3" fill="none" stroke="#00FF00" stroke-width="3.5" stroke-opacity="0.55"/>
<circle cx="988.6" cy="938" r="5.3" fill="#CCFFCC"/>
<circle cx="988.6" cy="938" r="5.3" fill="none" stroke="#00FF00" stroke-width="3.5" stroke-opacity="0.55"/>
<path d="M1061.8 823.9V924.8M1049.8 823.9H1073.8M1049.8 924.8H1073.8" stroke="#808080" stroke-width="3.3" fill="none"/>
<circle cx="1061.5" cy="823" r="5.3" fill="#D3D3D3" stroke="#808080" stroke-width="3.5"/>
<circle cx="1061.5" cy="875.4" r="5.3" fill="#D3D3D3" stroke="#808080" stroke-width="3.5"/>
<circle cx="1061.5" cy="924.8" r="5.3" fill="#D3D3D3" stroke="#808080" stroke-width="3.5"/>
<path d="M1134.5 848.9V927.8M1122.5 848.9H1146.5M1122.5 927.8H1146.5" stroke="#DD88F8" stroke-width="3.3" fill="none"/>
<circle cx="1134.3" cy="849.5" r="5.3" fill="#EDCAF8" stroke="#DD88F8" stroke-width="3.5"/>
<circle cx="1134.3" cy="886.6" r="5.3" fill="#EDCAF8" stroke="#DD88F8" stroke-width="3.5"/>
<circle cx="1134.3" cy="928.4" r="5.3" fill="#EDCAF8" stroke="#DD88F8" stroke-width="3.5"/>
<path d="M1207 941.1V972.3M1195 941.1H1219M1195 972.3H1219" stroke="#55A0FF" stroke-width="3.3" fill="none"/>
<circle cx="1199.1" cy="942.7" r="5.3" fill="#93BFF7" stroke="#55A0FF" stroke-width="3.5"/>
<circle cx="1215" cy="954.3" r="5.3" fill="#93BFF7" stroke="#55A0FF" stroke-width="3.5"/>
<circle cx="1206.9" cy="972.9" r="5.3" fill="#93BFF7" stroke="#55A0FF" stroke-width="3.5"/>
<path d="M1280.1 1010V1055M1268.1 1010H1292.1M1268.1 1055H1292.1" stroke="#F66598" stroke-width="3.3" fill="none"/>
<circle cx="1280.1" cy="1009.4" r="5.3" fill="#F799C8" stroke="#F66598" stroke-width="3.5"/>
<circle cx="1280.1" cy="1033" r="5.3" fill="#F799C8" stroke="#F66598" stroke-width="3.5"/>
<circle cx="1280.1" cy="1055" r="5.3" fill="#F799C8" stroke="#F66598" stroke-width="3.5"/>
<text x="776.43" y="1065.62" text-anchor="end" font-size="30.0">0</text>
<text x="776.4" y="994.34" text-anchor="end" font-size="30.0">2</text>
<text x="775.36" y="923.06" text-anchor="end" font-size="30.0">4</text>
<text x="776.28" y="851.78" text-anchor="end" font-size="30.0">6</text>
<text x="776.12" y="780.5" text-anchor="end" font-size="30.0">8</text>
<text x="776.43" y="709.22" text-anchor="end" font-size="30.0">10</text>
<text transform="translate(851.9,1095) rotate(-45)" text-anchor="end" font-size="28.3" textLength="126.96" lengthAdjust="spacingAndGlyphs">Untreated</text>
<text transform="translate(925,1095) rotate(-45)" text-anchor="end" font-size="28.3" textLength="34.76" lengthAdjust="spacingAndGlyphs">IRI</text>
<text transform="translate(997.5,1095) rotate(-45)" text-anchor="end" font-size="28.3" textLength="64.97" lengthAdjust="spacingAndGlyphs">ZIF-8</text>
<text transform="translate(1065.45,1100.35) rotate(-45)" text-anchor="end" font-size="28.3" textLength="133.81" lengthAdjust="spacingAndGlyphs">iNOS<tspan stroke="#000" stroke-width="0.9">@</tspan>ZIF</text>
<text transform="translate(1143.5,1095) rotate(-45)" text-anchor="end" font-size="28.3" textLength="94.51" lengthAdjust="spacingAndGlyphs">Pt<tspan stroke="#000" stroke-width="0.9">@</tspan>ZIF</text>
<text transform="translate(1210.65,1100.35) rotate(-45)" text-anchor="end" font-size="28.3" textLength="244.2" lengthAdjust="spacingAndGlyphs">Pt<tspan stroke="#000" stroke-width="0.9">@</tspan>ZIF+iNOS<tspan stroke="#000" stroke-width="0.9">@</tspan>ZIF</text>
<text transform="translate(1289.1,1095) rotate(-45)" text-anchor="end" font-size="28.3" textLength="170.07" lengthAdjust="spacingAndGlyphs">Pt-iNOS<tspan stroke="#000" stroke-width="0.9">@</tspan>ZIF</text>
<path d="M842.3 770V763.6H911.6V770" stroke="#000" stroke-width="3.1" fill="none" stroke-linejoin="round"/>
<path d="M922.6 769.6V763.4H1217.8V769.6" stroke="#000" stroke-width="3.1" fill="none" stroke-linejoin="round"/>
<path d="M915.9 735V728.7H1284.2V735" stroke="#000" stroke-width="3.1" fill="none" stroke-linejoin="round"/>
<path d="M1063 808.3V802H1283V808.3" stroke="#000" stroke-width="3.1" fill="none" stroke-linejoin="round"/>
<path d="M1137.2 843.7V837.5H1281.6V843.7" stroke="#000" stroke-width="3.1" fill="none" stroke-linejoin="round"/>
<path d="M1208.7 923.3V916.8H1281.3V923.3" stroke="#000" stroke-width="3.1" fill="none" stroke-linejoin="round"/>
<text x="803.34" y="753.5" font-size="22.0" textLength="28.59" lengthAdjust="spacing">***</text>
<text x="833.32" y="756.7" font-size="25.4" textLength="120.8" lengthAdjust="spacingAndGlyphs"><tspan font-style="italic">P</tspan> = 0.0002</text>
<text x="1021.94" y="755.6" font-size="22.0" textLength="19.06" lengthAdjust="spacing">**</text>
<text x="1042.39" y="758.8" font-size="25.4" textLength="120.45" lengthAdjust="spacingAndGlyphs"><tspan font-style="italic">P</tspan> = 0.0099</text>
<text x="1033.84" y="720.5" font-size="22.0" textLength="38.12" lengthAdjust="spacing">****</text>
<text x="1073.35" y="723.7" font-size="25.4" textLength="118.66" lengthAdjust="spacingAndGlyphs"><tspan font-style="italic">P</tspan> &lt; 0.0001</text>
<text x="1098.94" y="793.5" font-size="22.0" textLength="28.59" lengthAdjust="spacing">***</text>
<text x="1128.92" y="796.7" font-size="25.4" textLength="117.29" lengthAdjust="spacingAndGlyphs"><tspan font-style="italic">P</tspan> = 0.0001</text>
<text x="1134.04" y="829" font-size="22.0" textLength="28.59" lengthAdjust="spacing">***</text>
<text x="1164.02" y="832.2" font-size="25.4" textLength="120.2" lengthAdjust="spacingAndGlyphs"><tspan font-style="italic">P</tspan> = 0.0003</text>
<text x="1179.74" y="907.9" font-size="22.0" textLength="9.53" lengthAdjust="spacing">*</text>
<text x="1190.66" y="911.1" font-size="25.4" textLength="119.58" lengthAdjust="spacingAndGlyphs"><tspan font-style="italic">P</tspan> = 0.0230</text>
<text transform="translate(736.7,0) rotate(-90)" x="-1055.49" y="0" font-size="28.3" textLength="356.75" lengthAdjust="spacingAndGlyphs">Relative mRNA expression</text>
<text transform="translate(706.7,0) rotate(-90)" x="-914.53 -905.15 -884.45 -875.82 -855.44" y="0" font-size="28.3">IL-12</text>
<text x="681.1" y="658.6" font-size="29.0">e</text></g>
<g id="p5"><rect x="1485.6" y="1019.3" width="46.4" height="38.8" fill="#FF9E9E" stroke="#000" stroke-width="1.7"/>
<rect x="1558.3" y="843.7" width="46.4" height="214.4" fill="#FFE0C0" stroke="#000" stroke-width="1.7"/>
<rect x="1631.2" y="890.9" width="46.4" height="167.2" fill="#CCFFCC" stroke="#000" stroke-width="1.7"/>
<rect x="1704" y="874.4" width="46.4" height="183.7" fill="#D3D3D3" stroke="#000" stroke-width="1.7"/>
<rect x="1776.8" y="827.9" width="46.4" height="230.2" fill="#EDCAF8" stroke="#000" stroke-width="1.7"/>
<rect x="1849.7" y="935.4" width="46.4" height="122.7" fill="#93BFF7" stroke="#000" stroke-width="1.7"/>
<rect x="1922.6" y="954.1" width="46.4" height="104" fill="#F799C8" stroke="#000" stroke-width="1.7"/>
<path d="M1460.7 701.2H1995.6V1058.1H1460.7ZM1446.2 1058.1H1460.7M1446.2 939.1H1460.7M1446.2 820.1H1460.7M1446.2 701.1H1460.7M1452.8 998.6H1460.7M1452.8 879.6H1460.7M1452.8 760.6H1460.7M1508.8 1058.1V1072.5M1581.5 1058.1V1072.5M1654.4 1058.1V1072.5M1727.2 1058.1V1072.5M1800 1058.1V1072.5M1872.9 1058.1V1072.5M1945.8 1058.1V1072.5" stroke="#000" stroke-width="3.3" fill="none" stroke-linejoin="miter"/>
<path d="M1508.8 1011.6V1024.1M1496.8 1011.6H1520.8M1496.8 1024.1H1520.8" stroke="#FF7F7F" stroke-width="3.3" fill="none"/>
<circle cx="1492.6" cy="1010.5" r="5.3" fill="#FF9E9E" stroke="#FF7F7F" stroke-width="3.5"/>
<circle cx="1524.4" cy="1019.7" r="5.3" fill="#FF9E9E" stroke="#FF7F7F" stroke-width="3.5"/>
<circle cx="1508.9" cy="1022.6" r="5.3" fill="#FF9E9E" stroke="#FF7F7F" stroke-width="3.5"/>
<path d="M1581.5 804.1V881M1569.5 804.1H1593.5M1569.5 881H1593.5" stroke="#FFBF80" stroke-width="3.3" fill="none"/>
<circle cx="1581.5" cy="800.4" r="5.3" fill="#FFE0C0" stroke="#FFBF80" stroke-width="3.5"/>
<circle cx="1581.5" cy="850.3" r="5.3" fill="#FFE0C0" stroke="#FFBF80" stroke-width="3.5"/>
<circle cx="1581.5" cy="875.9" r="5.3" fill="#FFE0C0" stroke="#FFBF80" stroke-width="3.5"/>
<path d="M1654.4 838.8V940.3" stroke="#00FF00" stroke-width="3.3" fill="none" stroke-opacity="0.5"/>
<path d="M1642.4 838.8H1666.4" stroke="#00FF00" stroke-width="3.3" fill="none" stroke-opacity="0.5"/>
<path d="M1642.4 940.3H1666.4" stroke="#00FF00" stroke-width="3.3" fill="none" stroke-opacity="0.5"/>
<circle cx="1654.4" cy="832.7" r="5.3" fill="#CCFFCC"/>
<circle cx="1654.4" cy="832.7" r="5.3" fill="none" stroke="#00FF00" stroke-width="3.5" stroke-opacity="0.55"/>
<circle cx="1654.4" cy="905.1" r="5.3" fill="#CCFFCC"/>
<circle cx="1654.4" cy="905.1" r="5.3" fill="none" stroke="#00FF00" stroke-width="3.5" stroke-opacity="0.55"/>
<circle cx="1654.4" cy="930.8" r="5.3" fill="#CCFFCC"/>
<circle cx="1654.4" cy="930.8" r="5.3" fill="none" stroke="#00FF00" stroke-width="3.5" stroke-opacity="0.55"/>
<path d="M1727.2 804.8V942M1715.2 804.8H1739.2M1715.2 942H1739.2" stroke="#808080" stroke-width="3.3" fill="none"/>
<circle cx="1727.3" cy="797.6" r="5.3" fill="#D3D3D3" stroke="#808080" stroke-width="3.5"/>
<circle cx="1727.3" cy="893.1" r="5.3" fill="#D3D3D3" stroke="#808080" stroke-width="3.5"/>
<circle cx="1727.3" cy="930" r="5.3" fill="#D3D3D3" stroke="#808080" stroke-width="3.5"/>
<path d="M1800 789.4V864.5M1788 789.4H1812M1788 864.5H1812" stroke="#DD88F8" stroke-width="3.3" fill="none"/>
<circle cx="1792.3" cy="800.9" r="5.3" fill="#EDCAF8" stroke="#DD88F8" stroke-width="3.5"/>
<circle cx="1807.6" cy="810.3" r="5.3" fill="#EDCAF8" stroke="#DD88F8" stroke-width="3.5"/>
<circle cx="1800" cy="870.5" r="5.3" fill="#EDCAF8" stroke="#DD88F8" stroke-width="3.5"/>
<path d="M1872.9 887.6V980.9M1860.9 887.6H1884.9M1860.9 980.9H1884.9" stroke="#55A0FF" stroke-width="3.3" fill="none"/>
<circle cx="1873.1" cy="896.4" r="5.3" fill="#93BFF7" stroke="#55A0FF" stroke-width="3.5"/>
<circle cx="1873.1" cy="920.1" r="5.3" fill="#93BFF7" stroke="#55A0FF" stroke-width="3.5"/>
<circle cx="1873.1" cy="986.8" r="5.3" fill="#93BFF7" stroke="#55A0FF" stroke-width="3.5"/>
<path d="M1945.8 933.2V972.5M1933.8 933.2H1957.8M1933.8 972.5H1957.8" stroke="#F66598" stroke-width="3.3" fill="none"/>
<circle cx="1945.5" cy="930.4" r="5.3" fill="#F799C8" stroke="#F66598" stroke-width="3.5"/>
<circle cx="1937.8" cy="965.1" r="5.3" fill="#F799C8" stroke="#F66598" stroke-width="3.5"/>
<circle cx="1953.4" cy="963.3" r="5.3" fill="#F799C8" stroke="#F66598" stroke-width="3.5"/>
<text x="1442.43" y="1067.42" text-anchor="end" font-size="30.0">0</text>
<text x="1442.28" y="948.42" text-anchor="end" font-size="30.0">3</text>
<text x="1442.28" y="829.42" text-anchor="end" font-size="30.0">6</text>
<text x="1442.31" y="710.42" text-anchor="end" font-size="30.0">9</text>
<text transform="translate(1517.8,1096.8) rotate(-45)" text-anchor="end" font-size="28.3" textLength="126.96" lengthAdjust="spacingAndGlyphs">Untreated</text>
<text transform="translate(1590.5,1096.8) rotate(-45)" text-anchor="end" font-size="28.3" textLength="34.76" lengthAdjust="spacingAndGlyphs">IRI</text>
<text transform="translate(1663.4,1096.8) rotate(-45)" text-anchor="end" font-size="28.3" textLength="64.97" lengthAdjust="spacingAndGlyphs">ZIF-8</text>
<text transform="translate(1730.85,1102.15) rotate(-45)" text-anchor="end" font-size="28.3" textLength="133.81" lengthAdjust="spacingAndGlyphs">iNOS<tspan stroke="#000" stroke-width="0.9">@</tspan>ZIF</text>
<text transform="translate(1809,1096.8) rotate(-45)" text-anchor="end" font-size="28.3" textLength="94.51" lengthAdjust="spacingAndGlyphs">Pt<tspan stroke="#000" stroke-width="0.9">@</tspan>ZIF</text>
<text transform="translate(1876.55,1102.15) rotate(-45)" text-anchor="end" font-size="28.3" textLength="244.2" lengthAdjust="spacingAndGlyphs">Pt<tspan stroke="#000" stroke-width="0.9">@</tspan>ZIF+iNOS<tspan stroke="#000" stroke-width="0.9">@</tspan>ZIF</text>
<text transform="translate(1954.8,1096.8) rotate(-45)" text-anchor="end" font-size="28.3" textLength="170.07" lengthAdjust="spacingAndGlyphs">Pt-iNOS<tspan stroke="#000" stroke-width="0.9">@</tspan>ZIF</text>
<path d="M1505.2 769.6V763.4H1579.5V769.6" stroke="#000" stroke-width="3.1" fill="none" stroke-linejoin="round"/>
<path d="M1586.5 769.3V762.9H1876V769.3" stroke="#000" stroke-width="3.1" fill="none" stroke-linejoin="round"/>
<path d="M1584.4 735V728.7H1944V735" stroke="#000" stroke-width="3.1" fill="none" stroke-linejoin="round"/>
<path d="M1802.7 785.8V779.5H1955.9V785.8" stroke="#000" stroke-width="3.1" fill="none" stroke-linejoin="round"/>
<text x="1469.04" y="754.6" font-size="22.0" textLength="28.59" lengthAdjust="spacing">***</text>
<text x="1499.02" y="757.8" font-size="25.4" textLength="120.4" lengthAdjust="spacingAndGlyphs"><tspan font-style="italic">P</tspan> = 0.0002</text>
<text x="1686.94" y="754.6" font-size="22.0" textLength="9.53" lengthAdjust="spacing">*</text>
<text x="1697.86" y="757.8" font-size="25.4" textLength="117.05" lengthAdjust="spacingAndGlyphs"><tspan font-style="italic">P</tspan> = 0.0191</text>
<text x="1740.54" y="721.9" font-size="22.0" textLength="19.06" lengthAdjust="spacing">**</text>
<text x="1760.99" y="725.1" font-size="25.4" textLength="119.83" lengthAdjust="spacingAndGlyphs"><tspan font-style="italic">P</tspan> = 0.0067</text>
<text x="1815.54" y="804.9" font-size="22.0" textLength="19.06" lengthAdjust="spacing">**</text>
<text x="1835.99" y="808.1" font-size="25.4" textLength="119.09" lengthAdjust="spacingAndGlyphs"><tspan font-style="italic">P</tspan> = 0.0028</text>
<text transform="translate(1409.7,0) rotate(-90)" x="-1055.69" y="0" font-size="28.3" textLength="357.25" lengthAdjust="spacingAndGlyphs">Relative mRNA expression</text>
<text transform="translate(1379.9,0) rotate(-90)" x="-906.98 -896.85 -874.4 -862.68" y="0" font-size="28.3">IL-6</text>
<text x="1354.6" y="658.5" font-size="29.0">f</text></g>
</svg></body></html>
